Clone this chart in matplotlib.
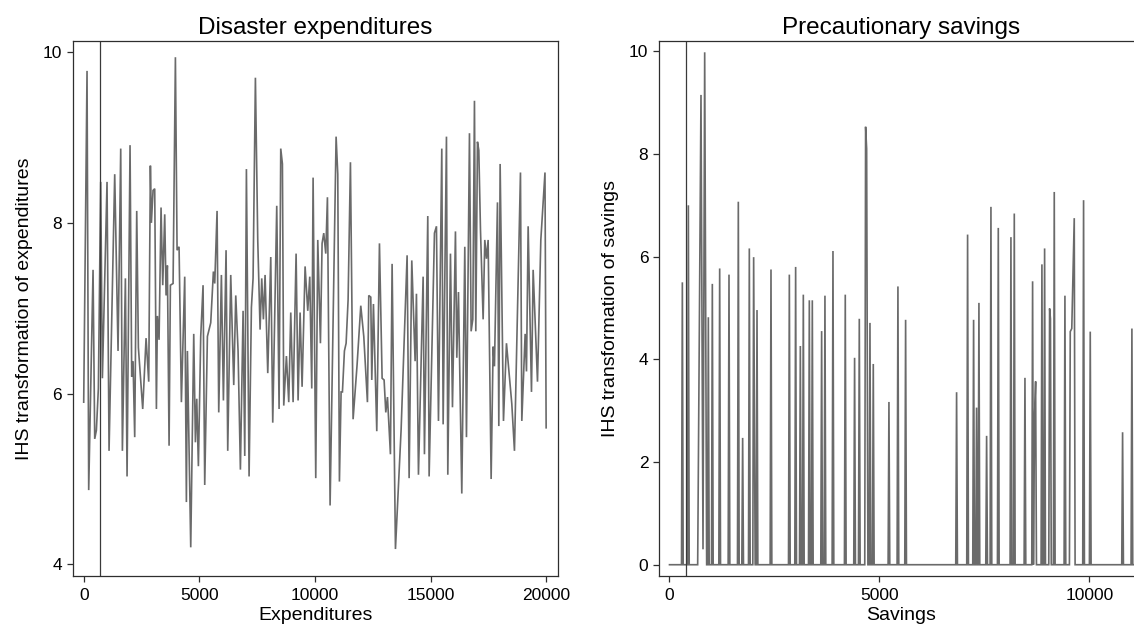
import matplotlib
matplotlib.use("Agg")
import matplotlib.pyplot as plt

plt.rcParams['font.family'] = ['Liberation Sans', 'DejaVu Sans']

# ---------------- data: left panel (Disaster expenditures) ----------------
exp_x = [0, 144, 216, 404, 476, 548, 634, 735, 808, 1009,
         1096, 1341, 1485, 1601, 1673, 1803, 1875, 2004, 2076, 2134,
         2206, 2293, 2365, 2552, 2697, 2812, 2884, 2927, 2999, 3071,
         3144, 3187, 3259, 3345, 3418, 3504, 3562, 3619, 3692, 3749,
         3865, 3966, 4038, 4124, 4225, 4369, 4441, 4485, 4629, 4759,
         4831, 4889, 4960, 5061, 5162, 5234, 5350, 5494, 5609, 5667,
         5768, 5840, 5955, 6042, 6157, 6229, 6359, 6489, 6576, 6676,
         6777, 6893, 6965, 7037, 7152, 7253, 7325, 7426, 7527, 7628,
         7700, 7772, 7844, 7960, 8090, 8176, 8349, 8450, 8522, 8594,
         8652, 8767, 8868, 8955, 9056, 9186, 9272, 9359, 9445, 9575,
         9690, 9777, 9863, 9921, 10036, 10123, 10238, 10310, 10382, 10469,
         10541, 10656, 10916, 10988, 11060, 11132, 11190, 11276, 11349, 11435,
         11536, 11651, 11824, 11983, 12113, 12271, 12329, 12416, 12459, 12531,
         12675, 12791, 12906, 12992, 13065, 13137, 13266, 13338, 13483, 13728,
         13987, 14074, 14189, 14333, 14391, 14478, 14680, 14737, 14881, 14939,
         15054, 15170, 15256, 15343, 15487, 15545, 15689, 15747, 15862, 15949,
         16078, 16136, 16208, 16352, 16482, 16554, 16684, 16756, 16828, 16900,
         16958, 17030, 17088, 17160, 17275, 17347, 17419, 17491, 17621, 17707,
         17765, 17895, 17953, 18010, 18155, 18284, 18515, 18630, 18890, 18948,
         19092, 19150, 19222, 19366, 19438, 19626, 19770, 19950, 20000]
exp_ihs = [5.90, 9.78, 4.87, 7.45, 5.47, 5.57, 6.06, 8.48, 6.18, 8.48,
           5.33, 8.57, 6.50, 8.87, 5.33, 7.35, 5.03, 8.91, 6.20, 6.38,
           5.49, 8.14, 6.54, 5.82, 6.65, 6.14, 8.67, 8.00, 8.38, 8.40,
           5.82, 6.91, 6.63, 8.18, 7.27, 8.10, 7.15, 7.50, 5.39, 7.27,
           7.29, 9.94, 7.68, 7.72, 5.90, 7.37, 4.73, 6.50, 4.20, 6.70,
           5.43, 5.94, 5.15, 6.67, 7.27, 4.93, 6.67, 6.83, 7.43, 7.29,
           8.14, 5.78, 7.39, 5.92, 7.68, 5.33, 7.39, 6.10, 7.15, 6.50,
           5.11, 6.97, 5.27, 8.63, 5.03, 7.01, 7.35, 9.70, 7.80, 6.75,
           7.35, 6.87, 7.39, 6.24, 7.60, 5.66, 8.20, 5.82, 8.87, 8.69,
           5.86, 6.44, 5.90, 6.95, 5.90, 7.64, 5.92, 6.95, 6.08, 7.49,
           6.97, 7.37, 6.06, 8.53, 5.01, 7.80, 6.59, 7.76, 7.88, 7.64,
           8.30, 4.69, 9.01, 8.57, 4.97, 6.02, 6.02, 6.50, 6.59, 7.10,
           8.71, 5.70, 6.34, 7.03, 6.67, 5.90, 7.15, 7.13, 6.16, 7.05,
           5.56, 7.76, 6.18, 6.16, 5.78, 5.96, 5.29, 7.52, 4.18, 5.58,
           7.62, 5.01, 7.56, 6.38, 7.17, 5.05, 7.37, 5.29, 8.08, 5.03,
           6.42, 7.88, 7.96, 5.68, 8.87, 5.64, 9.01, 5.05, 7.64, 5.84,
           7.90, 6.42, 7.19, 4.83, 7.72, 5.49, 9.05, 6.73, 6.87, 9.43,
           6.73, 8.95, 8.85, 7.92, 6.87, 7.80, 7.58, 7.80, 5.00, 6.55,
           6.32, 8.24, 5.62, 8.69, 5.68, 6.59, 5.88, 5.33, 8.59, 5.68,
           6.70, 6.26, 7.96, 6.02, 7.45, 6.14, 7.80, 8.59, 5.60]
exp_cutoff = 720

# ---------------- data: right panel (Precautionary savings) ----------------
sav_x = [0,
         286, 306, 326,
         429, 449, 469,
         671, 750, 798, 838, 885,
         905, 925, 945,
         1000, 1020, 1040,
         1175, 1195, 1215,
         1397, 1417, 1437,
         1619, 1639, 1659,
         1722, 1742, 1762,
         1881, 1901, 1921,
         1984, 2004, 2040, 2064, 2084, 2104,
         2397, 2417, 2437,
         2834, 2854, 2874,
         2984, 3004, 3024,
         3096, 3116, 3136,
         3167, 3187, 3207,
         3310, 3330, 3350,
         3381, 3401, 3421,
         3603, 3623, 3643,
         3682, 3702, 3722,
         3873, 3893, 3913,
         4166, 4186, 4206,
         4388, 4408, 4428,
         4500, 4520, 4540,
         4650, 4670, 4695, 4725,
         4754, 4774, 4794,
         4833, 4853, 4873,
         5206, 5226, 5246,
         5420, 5440, 5460,
         5603, 5623, 5643,
         6817, 6837, 6857,
         7079, 7099, 7119,
         7222, 7242, 7262,
         7293, 7313, 7333,
         7349, 7369, 7389,
         7532, 7552, 7572,
         7635, 7655, 7675,
         7810, 7830, 7850,
         8111, 8131, 8151,
         8191, 8211, 8231,
         8445, 8465, 8485,
         8627, 8647, 8667, 8695, 8719, 8739,
         8849, 8869, 8889,
         8913, 8933, 8953,
         9032, 9052, 9072, 9092,
         9143, 9163, 9183,
         9397, 9417, 9437,
         9524, 9544, 9580, 9639, 9659,
         9841, 9861, 9881,
         10000, 10020, 10040,
         10770, 10790, 10810,
         10992, 11012, 11032,
         11300]
sav_ihs = [0,
           0, 5.50, 0,
           0, 7.00, 0,
           0, 9.15, 0.3, 9.98, 0,
           0, 4.82, 0,
           0, 5.47, 0,
           0, 5.77, 0,
           0, 5.65, 0,
           0, 7.07, 0,
           0, 2.47, 0,
           0, 6.16, 0,
           0, 5.99, 0, 0, 4.96, 0,
           0, 5.75, 0,
           0, 5.65, 0,
           0, 5.80, 0,
           0, 4.26, 0,
           0, 5.26, 0,
           0, 5.15, 0,
           0, 5.15, 0,
           0, 4.55, 0,
           0, 5.24, 0,
           0, 6.11, 0,
           0, 5.26, 0,
           0, 4.03, 0,
           0, 4.79, 0,
           0, 8.53, 8.10, 0,
           0, 4.71, 0,
           0, 3.91, 0,
           0, 3.17, 0,
           0, 5.42, 0,
           0, 4.77, 0,
           0, 3.36, 0,
           0, 6.43, 0,
           0, 4.77, 0,
           0, 3.06, 0,
           0, 5.10, 0,
           0, 2.51, 0,
           0, 6.97, 0,
           0, 6.56, 0,
           0, 6.38, 0,
           0, 6.84, 0,
           0, 3.64, 0,
           0, 5.52, 0, 2.93, 3.57, 0,
           0, 5.85, 0,
           0, 6.16, 0,
           0, 4.99, 4.79, 0,
           0, 7.26, 0,
           0, 5.24, 0,
           0, 4.54, 4.60, 6.75, 0,
           0, 7.10, 0,
           0, 4.54, 0,
           0, 2.58, 0,
           0, 4.60, 0,
           0]
sav_cutoff = 400

exp_xticks = [0, 5000, 10000, 15000, 20000]
exp_yticks = [4, 6, 8, 10]
sav_xticks = [0, 5000, 10000]
sav_yticks = [0, 2, 4, 6, 8, 10]

# ---------------- styling ----------------
LINE = '#6a6a6a'
FRAME = '#2e2e2e'

W, H = 1134, 626
fig = plt.figure(figsize=(W / 100, H / 100), dpi=100)
ax1 = fig.add_axes([72.7 / W, (H - 575.5) / H, 485 / W, 534.5 / H])
ax2 = fig.add_axes([659.0 / W, (H - 575.5) / H, 485 / W, 534.5 / H])


def style(ax):
    for s in ax.spines.values():
        s.set_color(FRAME)
        s.set_linewidth(0.9)
    ax.tick_params(axis='both', direction='out', length=4.3, width=0.9,
                   color=FRAME, labelsize=12.5, labelcolor='black',
                   top=False, right=False)
    ax.tick_params(axis='y', pad=3.4)
    ax.tick_params(axis='x', pad=4.5)


ax1.plot(exp_x, exp_ihs, color=LINE, lw=1.2, solid_joinstyle='miter')
ax1.axvline(exp_cutoff, color='#3a3a3a', lw=0.9)
ax1.set_xlim(-476, 20500)
ax1.set_ylim(3.87, 10.13)
ax1.set_xticks(exp_xticks)
ax1.set_yticks(exp_yticks)
ax1.set_title('Disaster expenditures', fontsize=17.5, pad=5)
ax1.set_xlabel('Expenditures', fontsize=14, labelpad=3)
ax1.set_ylabel('IHS transformation of expenditures', fontsize=14, labelpad=7)
style(ax1)

ax2.plot(sav_x, sav_ihs, color=LINE, lw=1.2, solid_joinstyle='miter')
ax2.axvline(sav_cutoff, color='#3a3a3a', lw=0.9)
ax2.set_xlim(-250, 11300)
ax2.set_ylim(-0.21, 10.2)
ax2.set_xticks(sav_xticks)
ax2.set_yticks(sav_yticks)
ax2.set_title('Precautionary savings', fontsize=17.5, pad=5)
ax2.set_xlabel('Savings', fontsize=14, labelpad=3)
ax2.set_ylabel('IHS transformation of savings', fontsize=14, labelpad=7)
style(ax2)

fig.savefig('out.png', dpi=100, facecolor='white')
